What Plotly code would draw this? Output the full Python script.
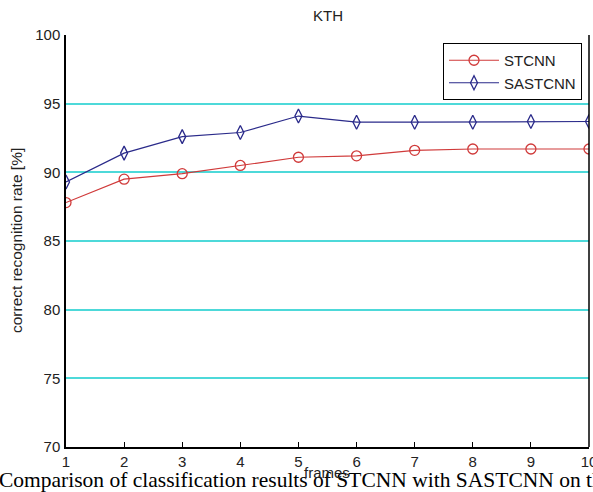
import plotly.graph_objects as go

frames = [1, 2, 3, 4, 5, 6, 7, 8, 9, 10]
stcnn = [87.8, 89.5, 89.9, 90.5, 91.1, 91.2, 91.6, 91.7, 91.7, 91.7]
sastcnn = [89.3, 91.4, 92.6, 92.9, 94.1, 93.65, 93.65, 93.65, 93.7, 93.7]
y_ticks = [70, 75, 80, 85, 90, 95, 100]

W, H = 593, 492
L, R, T, B = 66, 4, 35, 45
PW, PH = W - L - R, H - T - B

fig = go.Figure()
fig.add_trace(go.Scatter(
    x=frames, y=stcnn, name="STCNN", mode="lines+markers",
    line=dict(color="#d03a3a", width=1.2),
    marker=dict(symbol="circle-open", size=10, color="#d03a3a", line=dict(width=1.3)),
))
fig.add_trace(go.Scatter(
    x=frames, y=sastcnn, name="SASTCNN", mode="lines+markers",
    line=dict(color="#2a2a8a", width=1.2),
    marker=dict(symbol="diamond-tall-open", size=10, color="#2a2a8a", line=dict(width=1.3)),
))

fig.update_layout(
    width=W, height=H,
    margin=dict(l=L, r=R, t=T, b=B, pad=0, autoexpand=False),
    paper_bgcolor="white", plot_bgcolor="white",
    font=dict(family="Liberation Sans, Arial, sans-serif", size=15, color="#222"),
    showlegend=True,
    legend=dict(
        x=(582 - L) / PW, y=(H - B - 43) / PH, xanchor="right", yanchor="top",
        bgcolor="white", bordercolor="black", borderwidth=1,
        font=dict(size=15, color="#222"),
        itemwidth=50, tracegroupgap=0,
    ),
    xaxis=dict(
        range=[1, 10], tickvals=frames, ticktext=[str(v) for v in frames],
        showgrid=False, zeroline=False, automargin=False,
        showline=True, linecolor="black", linewidth=1.5, mirror=False,
        ticks="inside", ticklen=5, tickcolor="black",
        tickfont=dict(size=15, color="#222"),
        ticklabeloverflow="allow",
    ),
    yaxis=dict(
        range=[70, 100], tickvals=y_ticks, automargin=False,
        showgrid=True, gridcolor="#4dd9d9", gridwidth=2, zeroline=False,
        showline=True, linecolor="black", linewidth=1.5,
        ticks="", tickfont=dict(size=15, color="#222"),
        ticklabelstandoff=1,
    ),
    annotations=[
        dict(text="KTH", xref="paper", yref="paper", x=0.5, y=(H - B - 16) / PH,
             xanchor="center", yanchor="middle", showarrow=False,
             font=dict(size=15, color="#222")),
        dict(text="correct recognition rate [%]", xref="paper", yref="paper",
             x=-(L - 16) / PW, y=0.5, textangle=-90,
             xanchor="center", yanchor="middle", showarrow=False,
             font=dict(size=15.5, color="#222")),
        dict(text="Comparison of classification results of STCNN with SASTCNN on the KTH dataset",
             xref="paper", yref="paper", x=-(L + 3) / PW,
             y=-(480 - (H - B)) / PH,
             xanchor="left", yanchor="middle", showarrow=False,
             font=dict(family="Liberation Serif, Times New Roman, serif", size=21.5, color="black")),
        dict(text="frames", xref="paper", yref="paper", x=(327 - L) / PW, y=-(472 - (H - B)) / PH,
             xanchor="center", yanchor="middle", showarrow=False,
             font=dict(size=15, color="#222")),
    ],
)
# right border line (black) without top line
fig.add_shape(type="line", xref="paper", yref="paper", x0=1, x1=1, y0=0, y1=1,
              line=dict(color="black", width=1.5))

fig.write_html("out.html")
